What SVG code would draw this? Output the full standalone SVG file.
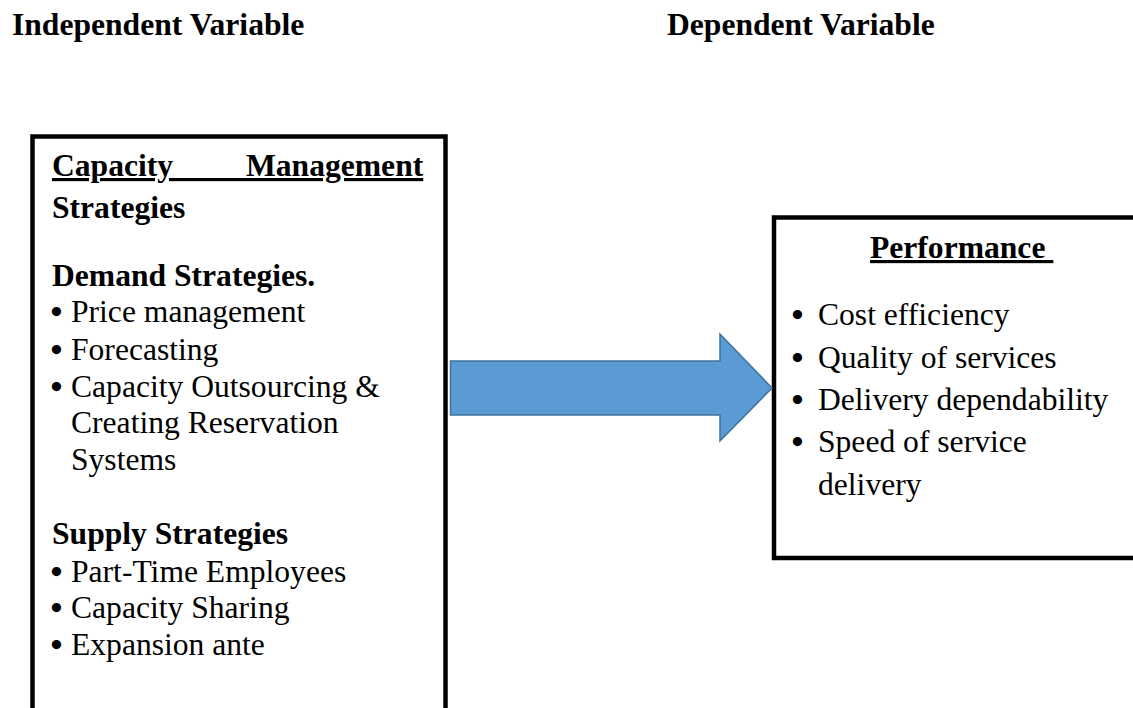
<svg xmlns="http://www.w3.org/2000/svg" width="1133" height="708" viewBox="0 0 1133 708">
  <style>
    .t { font-family: "Liberation Serif", "Times New Roman", serif; font-size: 31.6px; fill: #000; }
    .b { font-weight: bold; }
    .u { text-decoration: underline; }
    .bul { font-family: "Liberation Serif", "Times New Roman", serif; font-size: 34px; font-weight: bold; fill: #000; }
    .box { fill: #fff; stroke: #000; stroke-width: 4.5; }
    .arrow { fill: #5b9bd5; stroke: #41719c; stroke-width: 1.5; stroke-linejoin: miter; }
  </style>

  <rect width="1133" height="708" fill="#fff"/>

  <!-- column headings -->
  <g id="headings">
    <text class="t b" x="12" y="35">Independent Variable</text>
    <text class="t b" x="667" y="35">Dependent Variable</text>
  </g>

  <!-- independent variable box -->
  <g id="capacity-strategies">
    <rect class="box" x="32.5" y="136.5" width="413" height="600"/>
    <text class="t b u" x="52" y="176" word-spacing="65">Capacity Management</text>
    <text class="t b" x="52" y="218">Strategies</text>

    <text class="t b" x="52" y="286">Demand Strategies.</text>
    <text class="bul" x="50.5" y="323">•</text>
    <text class="t" x="71" y="322">Price management</text>
    <text class="bul" x="50.5" y="361">•</text>
    <text class="t" x="71" y="360">Forecasting</text>
    <text class="bul" x="50.5" y="398">•</text>
    <text class="t" x="71" y="397">Capacity Outsourcing &amp;</text>
    <text class="t" x="71" y="433">Creating Reservation</text>
    <text class="t" x="71" y="470">Systems</text>

    <text class="t b" x="52" y="544">Supply Strategies</text>
    <text class="bul" x="50.5" y="583">•</text>
    <text class="t" x="71" y="582">Part-Time Employees</text>
    <text class="bul" x="50.5" y="619">•</text>
    <text class="t" x="71" y="618">Capacity Sharing</text>
    <text class="bul" x="50.5" y="656">•</text>
    <text class="t" x="71" y="655">Expansion ante</text>
  </g>

  <!-- dependent variable box -->
  <g id="performance">
    <rect class="box" x="774" y="217.5" width="380" height="340.5"/>
    <text class="t b u" x="870" y="258" xml:space="preserve">Performance </text>
    <text class="bul" x="791.5" y="326">•</text>
    <text class="t" x="818" y="325">Cost efficiency</text>
    <text class="bul" x="791.5" y="369">•</text>
    <text class="t" x="818" y="368">Quality of services</text>
    <text class="bul" x="791.5" y="411">•</text>
    <text class="t" x="818" y="410">Delivery dependability</text>
    <text class="bul" x="791.5" y="453">•</text>
    <text class="t" x="818" y="452">Speed of service</text>
    <text class="t" x="818" y="495">delivery</text>
  </g>

  <!-- block arrow linking the two variables -->
  <g id="connectors">
    <path class="arrow" d="M450.5 361 H720 V334 L772 388 L720 441 V415 H450.5 Z"/>
  </g>
</svg>
